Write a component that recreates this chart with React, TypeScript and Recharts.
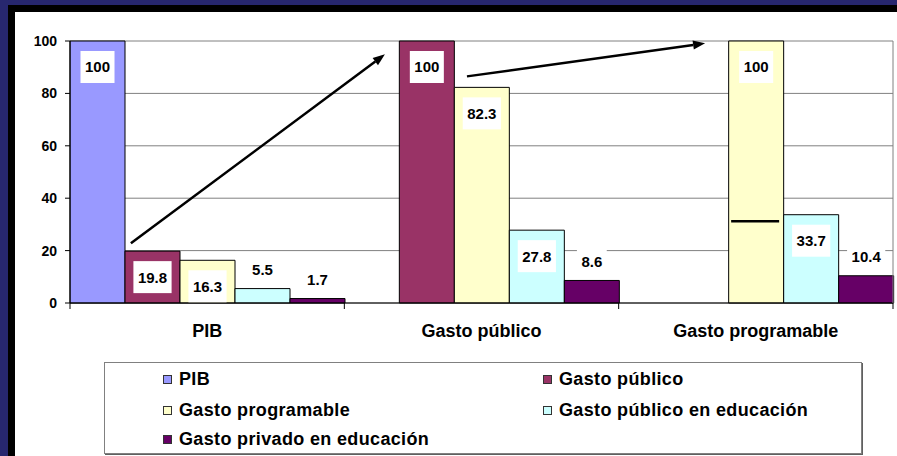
import React from 'react';
import { BarChart, Bar, XAxis, YAxis, CartesianGrid, LabelList, ReferenceLine, ScatterChart, Scatter } from 'recharts';

const categories = ['PIB', 'Gasto público', 'Gasto programable'];
const seriesNames = ['PIB', 'Gasto público', 'Gasto programable', 'Gasto público en educación', 'Gasto privado en educación'];
const seriesColors = ['#9999FF', '#993366', '#FFFFCC', '#CCFFFF', '#660066'];
const pib = [100, null, null];
const gastoPublico = [19.8, 100, null];
const gastoProgramable = [16.3, 82.3, 100];
const gastoPublicoEdu = [5.5, 27.8, 33.7];
const gastoPrivadoEdu = [1.7, 8.6, 10.4];
const yTicks = [0, 20, 40, 60, 80, 100];
const groupTicks = [0, 1, 2, 3];

// annotations in data units (x: group position 0..3, y: value)
const arrow1 = [{ x: 0.222, y: 22.8 }, { x: 1.148, y: 94.9 }];
const arrow2 = [{ x: 1.447, y: 86.5 }, { x: 2.315, y: 99.1 }];
const markLine = [{ x: 2.41, y: 31.2 }, { x: 2.585, y: 31.2 }];

const seriesValues = [pib, gastoPublico, gastoProgramable, gastoPublicoEdu, gastoPrivadoEdu];
const keys = ['s0', 's1', 's2', 's3', 's4'];

const data = categories.map((c, i) => {
  const row: any = { name: c };
  seriesValues.forEach((arr, j) => { row[keys[j]] = arr[i]; });
  return row;
});

const FONT = '"Liberation Sans", Arial, sans-serif';

const renderLabel = (props: any) => {
  const { x, y, width, value } = props;
  if (value == null) return null;
  const text = String(value);
  const fs = 15;
  const tw = text.split('').reduce((s: number, c: string) => s + (c === '.' ? 0.278 : 0.556) * fs, 0);
  const bw = tw + 9;
  const bh = 32;
  const cx = x + width / 2;
  const inside = value > 12;
  const cy = inside ? y + 26 : y - 19;
  return (
    <g>
      <rect x={cx - bw / 2} y={cy - bh / 2} width={bw} height={bh} fill="#fff" />
      <text x={cx} y={cy} dy="0.36em" textAnchor="middle" fontSize={fs} fontWeight="bold" fontFamily={FONT} fill="#000">{text}</text>
    </g>
  );
};

const arrowShape = (p: any) => {
  const { x1, y1, x2, y2 } = p;
  const ang = Math.atan2(y2 - y1, x2 - x1);
  const len = 12;
  const hw = 4.5;
  const bx = x2 - len * Math.cos(ang);
  const by = y2 - len * Math.sin(ang);
  const px = -Math.sin(ang) * hw;
  const py = Math.cos(ang) * hw;
  return (
    <g>
      <line x1={x1} y1={y1} x2={bx} y2={by} stroke="#000" strokeWidth={2.5} />
      <polygon points={`${x2},${y2} ${bx + px},${by + py} ${bx - px},${by - py}`} fill="#000" />
    </g>
  );
};

const plainShape = (p: any) => (
  <line x1={p.x1} y1={p.y1} x2={p.x2} y2={p.y2} stroke="#000" strokeWidth={2.5} />
);

const legendRowsY = [16, 47, 76];
const MARGIN = { top: 41, right: 4, left: 0, bottom: 0 };

export default function App() {
  return (
    <div style={{ position: 'absolute', left: 0, top: 0, width: 897, height: 456, background: '#27276f', overflow: 'hidden' }}>
      <div style={{ position: 'absolute', left: 8, top: 5, right: 0, bottom: 0, background: '#000' }} />
      <div style={{ position: 'absolute', left: 15, top: 12, right: 0, bottom: 0, background: '#fff' }} />
      <div style={{ position: 'absolute', left: 0, top: 0 }}>
        <BarChart
          width={897}
          height={456}
          data={data}
          margin={MARGIN}
          barCategoryGap={0}
          barGap={0}
        >
          <CartesianGrid vertical={false} stroke="#808080" strokeWidth={1} />
          <XAxis
            dataKey="name"
            height={153}
            axisLine={{ stroke: '#000' }}
            tickLine={false}
            tickSize={6}
            tickMargin={15}
            tick={{ fontSize: 18, fontWeight: 'bold', fill: '#000', fontFamily: FONT }}
            interval={0}
          />
          <YAxis
            width={70}
            domain={[0, 100]}
            ticks={yTicks}
            axisLine={{ stroke: '#000' }}
            tickLine={{ stroke: '#000' }}
            tickSize={5}
            tickMargin={8}
            tick={{ fontSize: 14, fontWeight: 'bold', fill: '#000', fontFamily: FONT }}
          />
          {keys.map((k, j) => (
            <Bar key={k} dataKey={k} name={seriesNames[j]} fill={seriesColors[j]} stroke="#000" strokeWidth={1} isAnimationActive={false}>
              <LabelList dataKey={k} content={renderLabel} />
            </Bar>
          ))}
        </BarChart>
      </div>
      <div style={{ position: 'absolute', left: 0, top: 0, pointerEvents: 'none' }}>
        <ScatterChart width={897} height={456} margin={{ top: 41, right: 4, left: 70, bottom: 0 }}>
          <XAxis
            type="number"
            dataKey="x"
            domain={[0, 3]}
            ticks={groupTicks}
            height={153}
            axisLine={false}
            tickLine={{ stroke: '#000' }}
            tickSize={6}
            tickFormatter={() => ''}
            allowDataOverflow
          />
          <YAxis type="number" dataKey="y" domain={[0, 100]} hide allowDataOverflow />
          <Scatter data={[]} isAnimationActive={false} />
          <ReferenceLine x={3} stroke="#808080" strokeWidth={1} />
          <ReferenceLine segment={arrow1} shape={arrowShape} />
          <ReferenceLine segment={arrow2} shape={arrowShape} />
          <ReferenceLine segment={markLine} shape={plainShape} />
        </ScatterChart>
      </div>
      <div style={{ position: 'absolute', left: 104, top: 362, width: 758, height: 92, border: '1px solid #808080', boxShadow: '1px 1px 0 #606060', background: '#fff', boxSizing: 'border-box', fontFamily: FONT }}>
        {seriesNames.map((n, i) => {
          const col = i % 2;
          const row = Math.floor(i / 2);
          return (
            <div key={n} style={{ position: 'absolute', left: col === 0 ? 58 : 438, top: legendRowsY[row] - 12, height: 24, display: 'flex', alignItems: 'center', whiteSpace: 'nowrap' }}>
              <div style={{ width: 9, height: 9, background: seriesColors[i], border: '1px solid #333', boxSizing: 'border-box', marginRight: 7 }} />
              <span style={{ fontSize: 18, fontWeight: 'bold', color: '#000', letterSpacing: 0.35 }}>{n}</span>
            </div>
          );
        })}
      </div>
    </div>
  );
}
